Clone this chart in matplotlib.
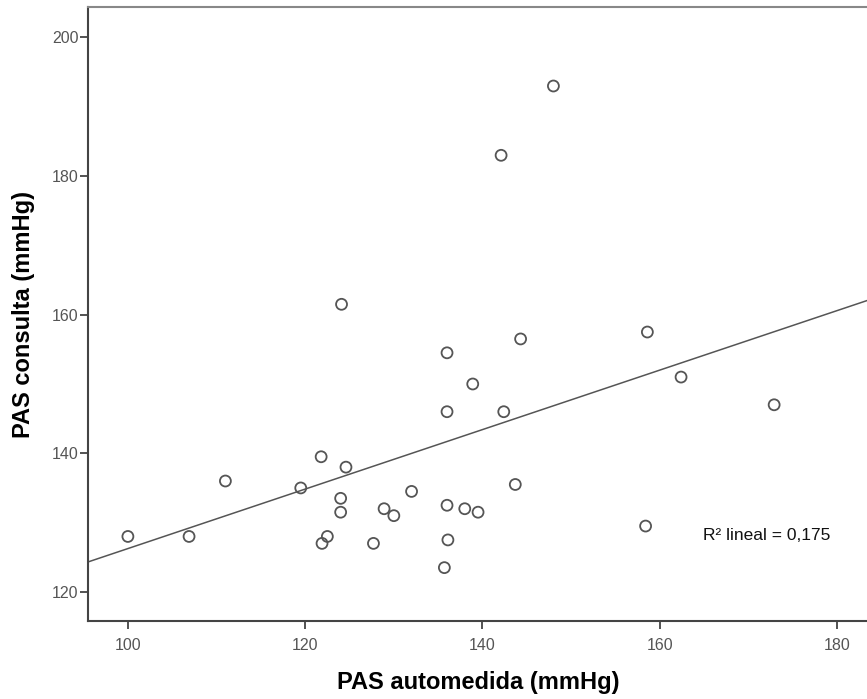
import numpy as np
import matplotlib

matplotlib.use("Agg")
import matplotlib.pyplot as plt

plt.rcParams["font.family"] = ["Liberation Sans", "DejaVu Sans"]

# PAS automedida (x) vs PAS consulta (y), mmHg
pas_auto = [100.0, 106.9, 111.0, 119.5, 121.8, 124.6, 124.0, 124.0, 122.5, 121.9,
            127.7, 128.9, 130.0, 132.0, 136.0, 136.0, 136.1, 135.7, 138.9, 142.4,
            143.7, 138.0, 139.5, 158.4, 172.9, 162.4, 148.0, 142.1, 144.3, 158.6,
            136.0, 124.1]
pas_consulta = [128.0, 128.0, 136.0, 135.0, 139.5, 138.0, 133.5, 131.5, 128.0, 127.0,
                127.0, 132.0, 131.0, 134.5, 146.0, 132.5, 127.5, 123.5, 150.0, 146.0,
                135.5, 132.0, 131.5, 129.5, 147.0, 151.0, 193.0, 183.0, 156.5, 157.5,
                154.5, 161.5]
x_ticks = [100, 120, 140, 160, 180]
y_ticks = [120, 140, 160, 180, 200]
r2_label = "R² lineal = 0,175"

XLIM = (95.5, 183.6)
YLIM = (115.8, 204.4)

fig = plt.figure(figsize=(8.67, 6.99), dpi=100)
ax = fig.add_axes([88 / 867, 1 - 621 / 699, 781 / 867, 614 / 699])

ax.scatter(pas_auto, pas_consulta, s=62, facecolors="none",
           edgecolors="#555555", linewidths=1.3, zorder=3)

slope, intercept = np.polyfit(pas_auto, pas_consulta, 1)
xs = np.array(XLIM)
ax.plot(xs, slope * xs + intercept, color="#555555", lw=1.1, zorder=2)

ax.set_xlim(*XLIM)
ax.set_ylim(*YLIM)
ax.set_xticks(x_ticks)
ax.set_yticks(y_ticks)

for side in ("left", "bottom", "top"):
    ax.spines[side].set_color("#444444")
    ax.spines[side].set_linewidth(1.5)
ax.spines["right"].set_visible(False)
ax.spines["top"].set_color("#888888")

ax.tick_params(axis="both", direction="out", length=6, width=1.3,
               color="#444444", labelsize=11.5, labelcolor="#555555")
ax.tick_params(axis="y", pad=1)
ax.tick_params(axis="x", pad=6)

ax.set_xlabel("PAS automedida (mmHg)", fontsize=17, fontweight="bold", labelpad=13)
ax.set_ylabel("PAS consulta (mmHg)", fontsize=17, fontweight="bold", labelpad=12)

ax.text(0.788, 0.14, r2_label, transform=ax.transAxes, fontsize=12.5,
        color="#111111", va="center", ha="left")

fig.savefig("out.png", dpi=100)
